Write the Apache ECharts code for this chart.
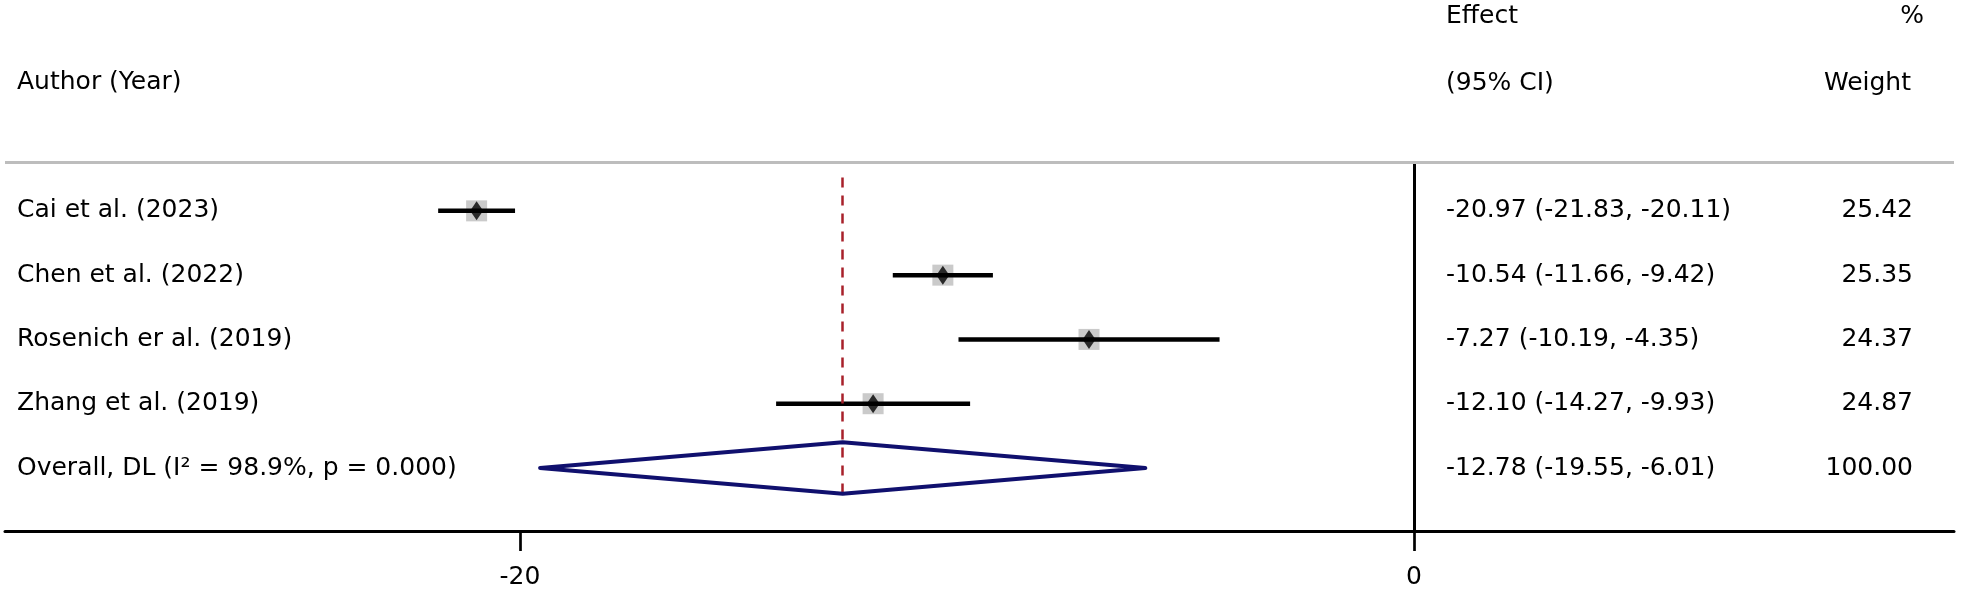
<!DOCTYPE html>
<html>
<head>
<meta charset="utf-8">
<script src="https://cdn.jsdelivr.net/npm/echarts@6/dist/echarts.min.js"></script>
<style>
html,body{margin:0;padding:0;background:#fff;}
#main{width:1962px;height:590px;}
</style>
</head>
<body>
<div id="main"></div>
<script>
// ---- data ----
const studies = ['Cai et al. (2023)', 'Chen et al. (2022)', 'Rosenich er al. (2019)', 'Zhang et al. (2019)'];
const effects = [-20.97, -10.54, -7.27, -12.10];
const lowerCI = [-21.83, -11.66, -10.19, -14.27];
const upperCI = [-20.11, -9.42, -4.35, -9.93];
const weights = [25.42, 25.35, 24.37, 24.87];
const overallLabel = 'Overall, DL (I\u00B2 = 98.9%, p = 0.000)';
const overallEffect = -12.78;
const overallLower = -19.55;
const overallUpper = -6.01;
const overallWeight = 100.00;
const tickValues = [-20, 0];
const headers = { col1: 'Author (Year)', col2a: 'Effect', col2b: '(95% CI)', col3a: '%', col3b: 'Weight' };

// ---- build ----
const FONT = 'DejaVu Sans';
const FS = 25;
const rows = studies.map((s, i) => i + 1);
const overallRow = studies.length + 1;
const fmt = v => v.toFixed(2);
const tableRows = studies.map((s, i) => [i + 1, s, fmt(effects[i]) + ' (' + fmt(lowerCI[i]) + ', ' + fmt(upperCI[i]) + ')', fmt(weights[i])]);
tableRows.push([overallRow, overallLabel, fmt(overallEffect) + ' (' + fmt(overallLower) + ', ' + fmt(overallUpper) + ')', fmt(overallWeight)]);

const chart = echarts.init(document.getElementById('main'), null, { renderer: 'canvas' });

const hdr = (txt, x, y, align) => ({
  type: 'text', x: x, y: y,
  style: { text: txt, fontSize: FS, fontFamily: FONT, fill: '#000', align: align, verticalAlign: 'middle' }
});

const option = {
  backgroundColor: '#ffffff',
  animation: false,
  textStyle: { fontFamily: FONT },
  grid: { left: 5, right: 8, top: 162, bottom: 56, containLabel: false },
  xAxis: {
    type: 'value', min: -31.52, max: 12.08,
    splitLine: { show: false },
    axisLine: { show: true, onZero: false, lineStyle: { color: '#000', width: 3 } },
    axisTick: { show: true, customValues: tickValues, length: 20, lineStyle: { color: '#000', width: 2.7 } },
    axisLabel: { show: true, customValues: tickValues, margin: 34, fontSize: FS, color: '#000', fontFamily: FONT }
  },
  yAxis: {
    type: 'value', inverse: true, min: 0.24, max: 5.98,
    show: false, splitLine: { show: false }
  },
  graphic: [
    hdr(headers.col1, 17, 82, 'left'),
    hdr(headers.col2a, 1446, 16, 'left'),
    hdr(headers.col2b, 1446, 83, 'left'),
    hdr(headers.col3a, 1924, 16, 'right'),
    hdr(headers.col3b, 1911, 83, 'right')
  ],
  series: [
    {
      // reference lines
      type: 'scatter', data: [], silent: true, z: 1,
      markLine: {
        silent: true, symbol: 'none', label: { show: false },
        data: [
          { xAxis: 0, lineStyle: { color: '#000', width: 3, type: 'solid' } },
          { yAxis: 0.24, lineStyle: { color: '#bdbdbd', width: 3, type: 'solid' } },
          [
            { coord: [overallEffect, 0.48], lineStyle: { color: '#a8202a', width: 2.5, type: [10, 8] } },
            { coord: [overallEffect, overallRow + 0.4] }
          ]
        ]
      }
    },
    {
      // weight boxes
      type: 'scatter', z: 2, silent: true,
      symbol: 'rect', symbolSize: 21,
      itemStyle: { color: '#bdbdbd' },
      data: effects.map((e, i) => [e, rows[i]])
    },
    {
      // CI lines
      type: 'custom', z: 3, silent: true,
      data: studies.map((s, i) => [lowerCI[i], upperCI[i], rows[i]]),
      renderItem: function (params, api) {
        const p1 = api.coord([api.value(0), api.value(2)]);
        const p2 = api.coord([api.value(1), api.value(2)]);
        return { type: 'line', shape: { x1: p1[0], y1: p1[1], x2: p2[0], y2: p2[1] }, style: { stroke: '#000', lineWidth: 4.5 } };
      }
    },
    {
      // point estimates
      type: 'scatter', z: 4, silent: true,
      symbol: 'diamond', symbolSize: [13, 19],
      itemStyle: { color: '#000' },
      data: effects.map((e, i) => [e, rows[i]])
    },
    {
      // overall diamond
      type: 'custom', z: 5, silent: true,
      data: [[overallLower, overallEffect, overallUpper, overallRow]],
      renderItem: function (params, api) {
        const r = api.value(3);
        const pts = [
          api.coord([api.value(0), r]),
          api.coord([api.value(1), r - 0.4]),
          api.coord([api.value(2), r]),
          api.coord([api.value(1), r + 0.4])
        ];
        return { type: 'polygon', shape: { points: pts }, style: { stroke: '#10106e', lineWidth: 4, fill: null, lineJoin: 'round' } };
      }
    },
    {
      // table text
      type: 'custom', z: 6, silent: true,
      data: tableRows,
      renderItem: function (params, api) {
        const d = tableRows[params.dataIndex];
        const y = api.coord([0, d[0]])[1];
        const base = { fontSize: FS, fontFamily: FONT, fill: '#000', verticalAlign: 'middle' };
        return {
          type: 'group',
          children: [
            { type: 'text', x: 17, y: y, style: Object.assign({ text: d[1], align: 'left' }, base) },
            { type: 'text', x: 1446, y: y, style: Object.assign({ text: d[2], align: 'left' }, base) },
            { type: 'text', x: 1913, y: y, style: Object.assign({ text: d[3], align: 'right' }, base) }
          ]
        };
      }
    }
  ]
};
chart.setOption(option);
</script>
</body>
</html>
